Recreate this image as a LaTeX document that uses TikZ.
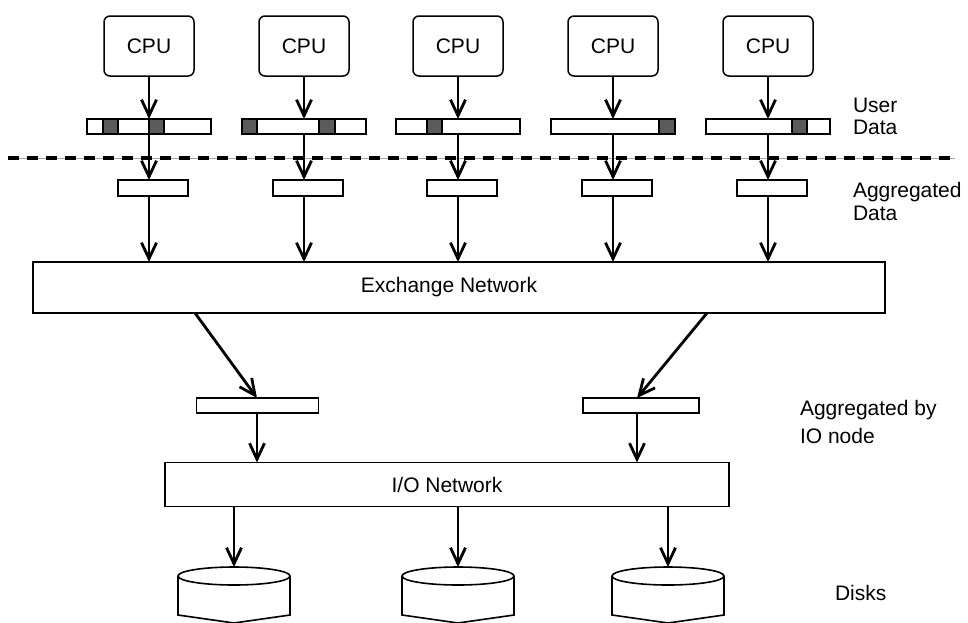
\documentclass[tikz,border=0pt]{standalone}
\usepackage{fontspec}
\setmainfont{Liberation Sans}
\usetikzlibrary{arrows.meta}
\definecolor{cell}{HTML}{5A5A5A}
\begin{document}
\begin{tikzpicture}[x=1pt,y=-1pt,
  every node/.style={font=\fontsize{21}{24}\selectfont, inner sep=0pt, outer sep=0pt},
  cpubox/.style={draw, line width=1.5pt, rounded corners=6pt, minimum width=90pt, minimum height=60pt},
  ubar/.style={draw, line width=1.5pt, minimum width=124pt, minimum height=15pt},
  abar/.style={draw, line width=1.5pt, minimum width=70pt, minimum height=16pt},
  iobar/.style={draw, line width=1.5pt, minimum width=122pt, minimum height=15pt},
  netbox/.style={draw, line width=1.5pt},
  arr/.style={line width=2.8pt, -{Straight Barb[length=16pt,width=15pt]}},
  lbl/.style={anchor=base west},
  diskline/.style={line width=1.6pt}
]
\useasboundingbox (0,0) rectangle (968,622);

% CPUs and user-data bars
\foreach \i/\c in {1/149,2/304,3/458,4/613,5/768}{
  \node[cpubox] (cpu\i) at (\c,46) {CPU};
  \node[ubar] (ud\i) at (\c,126.5) {};
  \node[abar] (ag\i) at (\c+4,188) {};
}
% dark cells
\tikzset{cellfill/.style={fill=cell, draw=black, line width=1.2pt}}
\fill[cellfill] ([xshift=16pt]ud1.north west) rectangle ([xshift=31pt]ud1.south west);
\fill[cellfill] ([xshift=62pt]ud1.north west) rectangle ([xshift=77pt]ud1.south west);
\fill[cellfill] (ud2.north west) rectangle ([xshift=15pt]ud2.south west);
\fill[cellfill] ([xshift=77pt]ud2.north west) rectangle ([xshift=93pt]ud2.south west);
\fill[cellfill] ([xshift=31pt]ud3.north west) rectangle ([xshift=46pt]ud3.south west);
\fill[cellfill] ([xshift=108pt]ud4.north west) rectangle (ud4.south east);
\fill[cellfill] ([xshift=86pt]ud5.north west) rectangle ([xshift=101pt]ud5.south west);
% redraw bar outlines on top
\foreach \i in {1,...,5}{\draw[line width=1.5pt] (ud\i.north west) rectangle (ud\i.south east);}

% dashed separator
\coordinate (dl) at (8,158);
\coordinate (dr) at (955,158);
\draw[gray!70, line width=0.8pt] (dl) -- (dr);
\draw[line width=3.8pt, dash pattern=on 11pt off 8pt] (dl) -- (dr);

% exchange network
\node[netbox, minimum width=852pt, minimum height=51pt] (ex) at (459,287.5) {};
\node (ext) at (449,287.5) {Exchange Network};

% arrows top part
\foreach \i in {1,...,5}{
  \draw[arr] (cpu\i.south) -- (ud\i.north);
  \draw[arr] (ud\i.south) -- (ud\i.south |- ag\i.north);
  \draw[arr] (ud\i.south |- ag\i.south) -- (ud\i.south |- ex.north);
}

% IO aggregation bars
\node[iobar] (io1) at (257.5,405.5) {};
\node[iobar, minimum width=116pt] (io2) at (641,405.5) {};
\draw[arr] ([xshift=162pt]ex.south west) -- ([xshift=-0.5pt]io1.north);
\draw[arr] ([xshift=-178pt]ex.south east) -- ([xshift=-4pt]io2.north);

% I/O network
\node[netbox, minimum width=564pt, minimum height=44pt] (ion) at (447,484.5) {I/O Network};
\draw[arr] ([xshift=-0.5pt]io1.south) -- ([xshift=-0.5pt]io1.south |- ion.north);
\draw[arr] ([xshift=-4pt]io2.south) -- ([xshift=-4pt]io2.south |- ion.north);

% disks
\foreach \i/\c in {1/234,2/458,3/668}{
  \coordinate (dk\i) at (\c,567);
  \draw[diskline, fill=white] (\c-56,576) -- (\c-56,615) -- (\c,623) -- (\c+56,615) -- (\c+56,576);
  \draw[diskline] (\c,576) ellipse [x radius=56pt, y radius=9pt];
  \draw[arr] (ion.south -| dk\i) -- (dk\i);
}

% labels
\node[lbl] (l1) at (853,112) {User};
\node[lbl] (l2) at (853,134) {Data};
\node[lbl] (l3) at (853,197) {Aggregated};
\node[lbl] (l4) at (853,220) {Data};
\node[lbl] (l5) at (800,415) {Aggregated by};
\node[lbl] (l6) at (800,443) {IO node};
\node[lbl] (l7) at (835,600) {Disks};
\end{tikzpicture}
\end{document}
